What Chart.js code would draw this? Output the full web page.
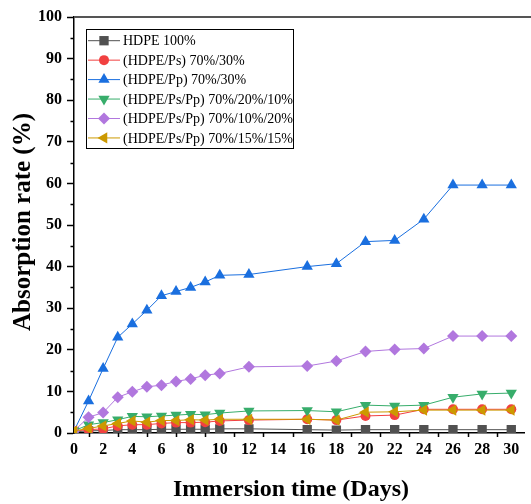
<!DOCTYPE html>
<html>
<head>
<meta charset="utf-8">
<script src="https://cdn.jsdelivr.net/npm/chart.js@4/dist/chart.umd.min.js"></script>
<style>
  html, body { margin: 0; padding: 0; background: #fff; }
  #wrap { width: 531px; height: 504px; }
</style>
</head>
<body>
<div id="wrap"><canvas id="absChart" width="531" height="504"></canvas></div>
<script>
// immersion days and absorption rate (%) per blend
const days = [0, 1, 2, 3, 4, 5, 6, 7, 8, 9, 10, 12, 16, 18, 20, 22, 24, 26, 28, 30];
const hdpe100 = [0.3, 0.5, 0.6, 0.8, 0.8, 0.8, 0.9, 0.9, 0.9, 0.9, 1.0, 1.0, 0.8, 0.7, 0.8, 0.8, 0.8, 0.8, 0.8, 0.8];
const hdpePs = [0.5, 0.8, 1.0, 1.7, 2.0, 2.0, 2.3, 2.5, 2.5, 2.6, 2.9, 3.1, 3.3, 3.1, 4.1, 4.3, 5.7, 5.7, 5.7, 5.7];
const hdpePp = [0.5, 7.7, 15.5, 23.0, 26.2, 29.5, 33.0, 34.0, 35.0, 36.3, 37.9, 38.1, 40.0, 40.7, 46.0, 46.3, 51.4, 59.6, 59.6, 59.6];
const mix201 = [0.5, 2.0, 2.5, 3.2, 4.0, 3.9, 4.1, 4.3, 4.5, 4.4, 4.8, 5.3, 5.4, 5.1, 6.7, 6.5, 6.7, 8.6, 9.4, 9.6];
const mix102 = [0.5, 3.8, 4.9, 8.6, 9.9, 11.1, 11.5, 12.4, 13.0, 13.9, 14.3, 15.9, 16.1, 17.3, 19.6, 20.1, 20.3, 23.3, 23.3, 23.3];
const mix1515 = [0.5, 1.1, 1.7, 2.3, 2.9, 2.6, 3.0, 3.0, 3.2, 3.1, 3.3, 3.3, 3.3, 3.1, 5.0, 5.1, 5.5, 5.5, 5.5, 5.5];

const seriesNames = ['HDPE 100%', '(HDPE/Ps) 70%/30%', '(HDPE/Pp) 70%/30%',
  '(HDPE/Ps/Pp) 70%/20%/10%', '(HDPE/Ps/Pp) 70%/10%/20%', '(HDPE/Ps/Pp) 70%/15%/15%'];
const seriesValues = [hdpe100, hdpePs, hdpePp, mix201, mix102, mix1515];

const xTicks = [0, 2, 4, 6, 8, 10, 12, 14, 16, 18, 20, 22, 24, 26, 28, 30];
const xMinor = [1, 3, 5, 7, 9, 11, 13, 15, 17, 19, 21, 23, 25, 27, 29];
const yTicks = [0, 10, 20, 30, 40, 50, 60, 70, 80, 90, 100];
const yMinor = [5, 15, 25, 35, 45, 55, 65, 75, 85, 95];

const colors = ['#515151', '#F14040', '#1A6FDF', '#37AD6B', '#B177DE', '#CC9900'];
const marks = [
  { style: 'rect', r: 6.6, rot: 0 },
  { style: 'circle', r: 5, rot: 0 },
  { style: 'triangle', r: 6.5, rot: 0 },
  { style: 'triangle', r: 6.5, rot: 180 },
  { style: 'rectRot', r: 6, rot: 0 },
  { style: 'triangle', r: 6.5, rot: -90 }
];

const serif = "'Liberation Serif', 'Times New Roman', serif";

const datasets = seriesValues.map(function (vals, i) {
  return {
    label: seriesNames[i],
    data: vals.map(function (v, k) { return { x: days[k], y: v }; }),
    borderColor: colors[i],
    backgroundColor: colors[i],
    borderWidth: 1,
    pointStyle: marks[i].style,
    pointRadius: marks[i].r,
    pointRotation: marks[i].rot,
    pointBorderWidth: 0,
    pointHoverRadius: marks[i].r,
    tension: 0,
    order: 6 - i
  };
});

// minor ticks, top frame line and axis titles
const decorPlugin = {
  id: 'decor',
  afterDraw(chart) {
    const ctx = chart.ctx;
    const area = chart.chartArea;
    const xs = chart.scales.x, ys = chart.scales.y;
    ctx.save();
    ctx.strokeStyle = '#000';
    ctx.lineWidth = 1.5;
    ctx.beginPath();
    yMinor.forEach(function (v) {
      const py = Math.round(ys.getPixelForValue(v)) + 0.5;
      ctx.moveTo(area.left - 3.5, py);
      ctx.lineTo(area.left, py);
    });
    xMinor.forEach(function (v) {
      const px = Math.round(xs.getPixelForValue(v)) + 0.5;
      ctx.moveTo(px, area.bottom);
      ctx.lineTo(px, area.bottom + 4);
    });
    ctx.stroke();

    ctx.strokeStyle = '#555';
    ctx.lineWidth = 2;
    ctx.beginPath();
    ctx.moveTo(area.left, area.top);
    ctx.lineTo(chart.width, area.top);
    ctx.stroke();

    ctx.fillStyle = '#000';
    ctx.font = 'bold 24px ' + serif;
    ctx.textAlign = 'center';
    ctx.textBaseline = 'middle';
    ctx.fillText('Immersion time (Days)', 291, 490);
    ctx.translate(24, 222);
    ctx.rotate(-Math.PI / 2);
    ctx.font = 'bold 25px ' + serif;
    ctx.fillText('Absorption rate (%)', 0, 0);
    ctx.restore();
  }
};

// legend box inside the plot, line + marker + name
const legendPlugin = {
  id: 'boxLegend',
  afterDraw(chart) {
    const ctx = chart.ctx;
    const box = { x: 86, y: 29, w: 207, h: 119 };
    ctx.save();
    ctx.fillStyle = '#fff';
    ctx.fillRect(box.x, box.y, box.w, box.h);
    ctx.strokeStyle = '#000';
    ctx.lineWidth = 1;
    ctx.strokeRect(box.x + 0.5, box.y + 0.5, box.w, box.h);
    ctx.font = '14px ' + serif;
    ctx.textBaseline = 'middle';
    ctx.textAlign = 'left';
    chart.data.datasets.forEach(function (ds, i) {
      const cy = 40.7 + i * 19.45;
      ctx.strokeStyle = ds.borderColor;
      ctx.lineWidth = 1;
      ctx.beginPath();
      ctx.moveTo(88, cy);
      ctx.lineTo(120, cy);
      ctx.stroke();
      ctx.fillStyle = ds.backgroundColor;
      Chart.helpers.drawPoint(ctx, {
        pointStyle: ds.pointStyle,
        radius: ds.pointRadius,
        rotation: ds.pointRotation,
        borderWidth: 0
      }, 104, cy);
      ctx.fillStyle = '#000';
      ctx.fillText(ds.label, 123, cy + 1);
    });
    ctx.restore();
  }
};

new Chart(document.getElementById('absChart').getContext('2d'), {
  type: 'line',
  data: { datasets: datasets },
  options: {
    responsive: false,
    animation: false,
    devicePixelRatio: 1,
    layout: { padding: { top: 17, right: 0, left: 0, bottom: 0 } },
    plugins: { legend: { display: false }, tooltip: { enabled: false } },
    scales: {
      x: {
        type: 'linear',
        min: 0,
        max: 30.9,
        afterBuildTicks(scale) { scale.ticks = xTicks.map(function (v) { return { value: v }; }); },
        afterFit(scale) { scale.height = 71; },
        grid: { drawOnChartArea: false, drawTicks: false },
        border: { color: '#000', width: 1.5 },
        ticks: { color: '#000', padding: 7, maxRotation: 0, font: { family: serif, size: 16, weight: 'bold' } }
      },
      y: {
        min: 0,
        max: 100,
        afterBuildTicks(scale) { scale.ticks = yTicks.map(function (v) { return { value: v }; }); },
        afterFit(scale) { scale.width = 74; },
        grid: { drawOnChartArea: false, drawTicks: true, tickLength: 7, tickColor: '#000', tickWidth: 1.5 },
        border: { color: '#000', width: 1.5 },
        ticks: { color: '#000', padding: 5, font: { family: serif, size: 16, weight: 'bold' } }
      }
    }
  },
  plugins: [decorPlugin, legendPlugin]
});
</script>
</body>
</html>
